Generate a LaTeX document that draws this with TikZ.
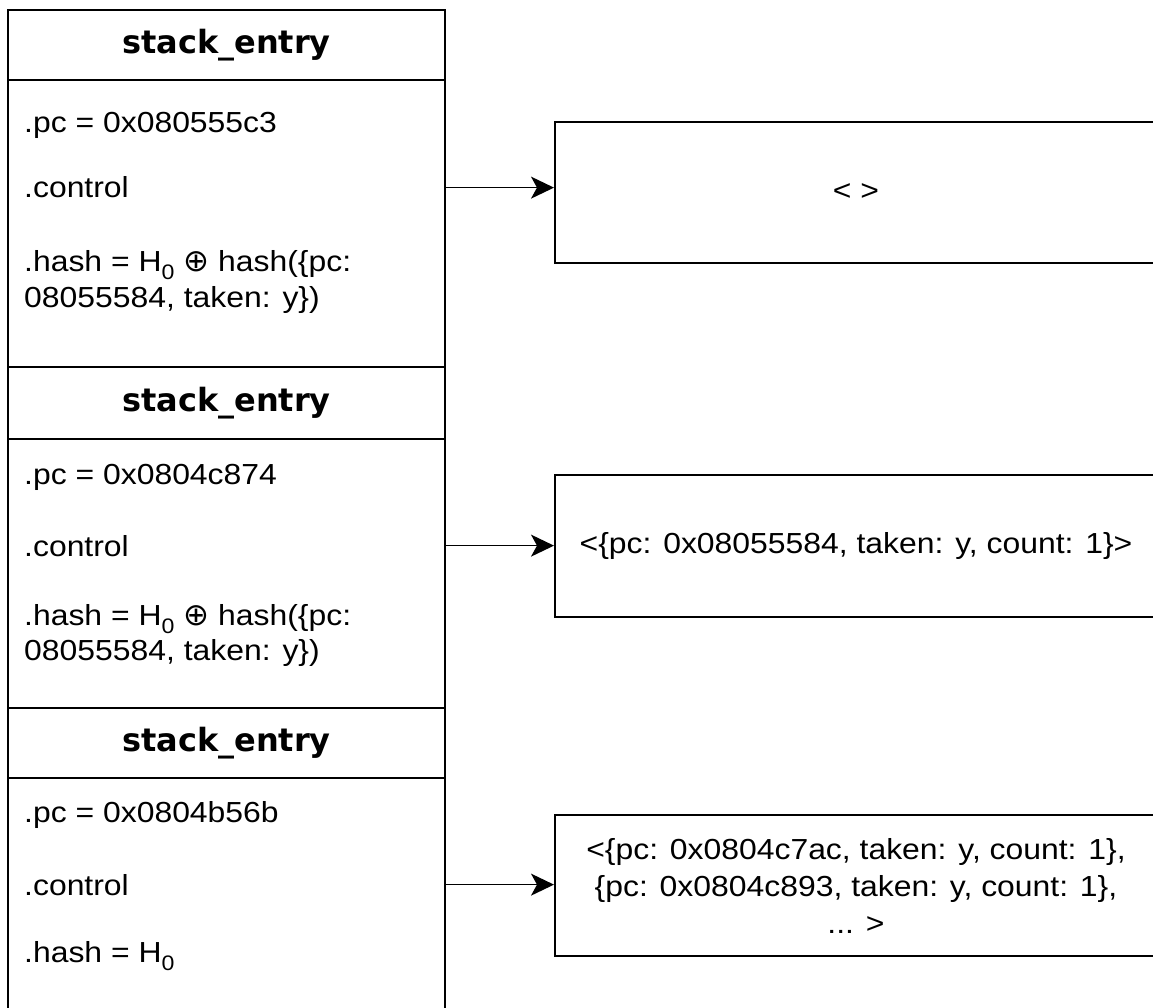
\documentclass[tikz,border=0pt]{standalone}
\usepackage{fontspec}
\setmainfont{Liberation Sans}[FakeStretch=1.1]
\newfontfamily\headfont{DejaVu Sans}
\usepackage{tikz}
\usetikzlibrary{arrows.meta}
\newcommand{\hzero}{H\raisebox{-8pt}{\fontsize{21}{21}\selectfont 0}}
\newcommand{\xorsign}{{\headfont\fontsize{31}{31}\selectfont ⊕}}

\begin{document}
\begin{tikzpicture}[>={Stealth[length=23pt,width=22pt,inset=6pt]}, x=1pt, y=-1pt,
    entry/.style={draw, line width=2pt, inner sep=0pt, minimum width=437pt},
    head/.style={entry, font=\headfont\bfseries\fontsize{32}{38}\selectfont},
    field/.style={anchor=base west, inner sep=0pt, font=\fontsize{29}{37}\selectfont},
    chain/.style={draw, line width=2pt, inner sep=0pt, minimum width=602pt, align=center,
        font=\fontsize{29}{37}\selectfont}]
        \clip (0,0) rectangle (1153,1008);

        \node [head, minimum height=70pt] (head1) at (226.5,45) {stack\_entry};
        \node [entry, minimum height=287pt] (body1) at (226.5,223.5) {};
        \node [head, minimum height=72pt] (head2) at (226.5,403) {stack\_entry};
        \node [entry, minimum height=269pt] (body2) at (226.5,573.5) {};
        \node [head, minimum height=70pt] (head3) at (226.5,743) {stack\_entry};
        \node [entry, minimum height=282pt] (body3) at (226.5,919) {};

        \node [field] (pc1) at (24,133) {.pc = 0x080555c3};
        \node [field] (ctrl1) at (24,198) {.control};
        \node [field] (hash1) at (24,272) {.hash = \hzero{} \xorsign{} hash(\{pc:};
        \node [field] (hashb1) at (24,307) {08055584, taken: y\})};

        \node [field] (pc2) at (24,484) {.pc = 0x0804c874};
        \node [field] (ctrl2) at (24,556) {.control};
        \node [field] (hash2) at (24,625) {.hash = \hzero{} \xorsign{} hash(\{pc:};
        \node [field] (hashb2) at (24,660) {08055584, taken: y\})};

        \node [field] (pc3) at (24,822) {.pc = 0x0804b56b};
        \node [field] (ctrl3) at (24,895) {.control};
        \node [field] (hash3) at (24,962) {.hash = \hzero};

        \node [chain, minimum height=141pt] (val1) at (856,192.5) {< >};
        \node [chain, minimum height=142pt] (val2) at (856,546) {<\{pc: 0x08055584, taken: y, count: 1\}>};
        \node [chain, minimum height=141pt] (val3) at (856,885.5)
            {<\{pc: 0x0804c7ac, taken: y, count: 1\},\\ \{pc: 0x0804c893, taken: y, count: 1\},\\ ... >};

        \draw [->, line width=1.6pt] (ctrl1 -| body1.east) -- (ctrl1 -| val1.west);
        \draw [->, line width=1.6pt] (ctrl2 -| body2.east) -- (ctrl2 -| val2.west);
        \draw [->, line width=1.6pt] (ctrl3 -| body3.east) -- (ctrl3 -| val3.west);
\end{tikzpicture}
\end{document}
